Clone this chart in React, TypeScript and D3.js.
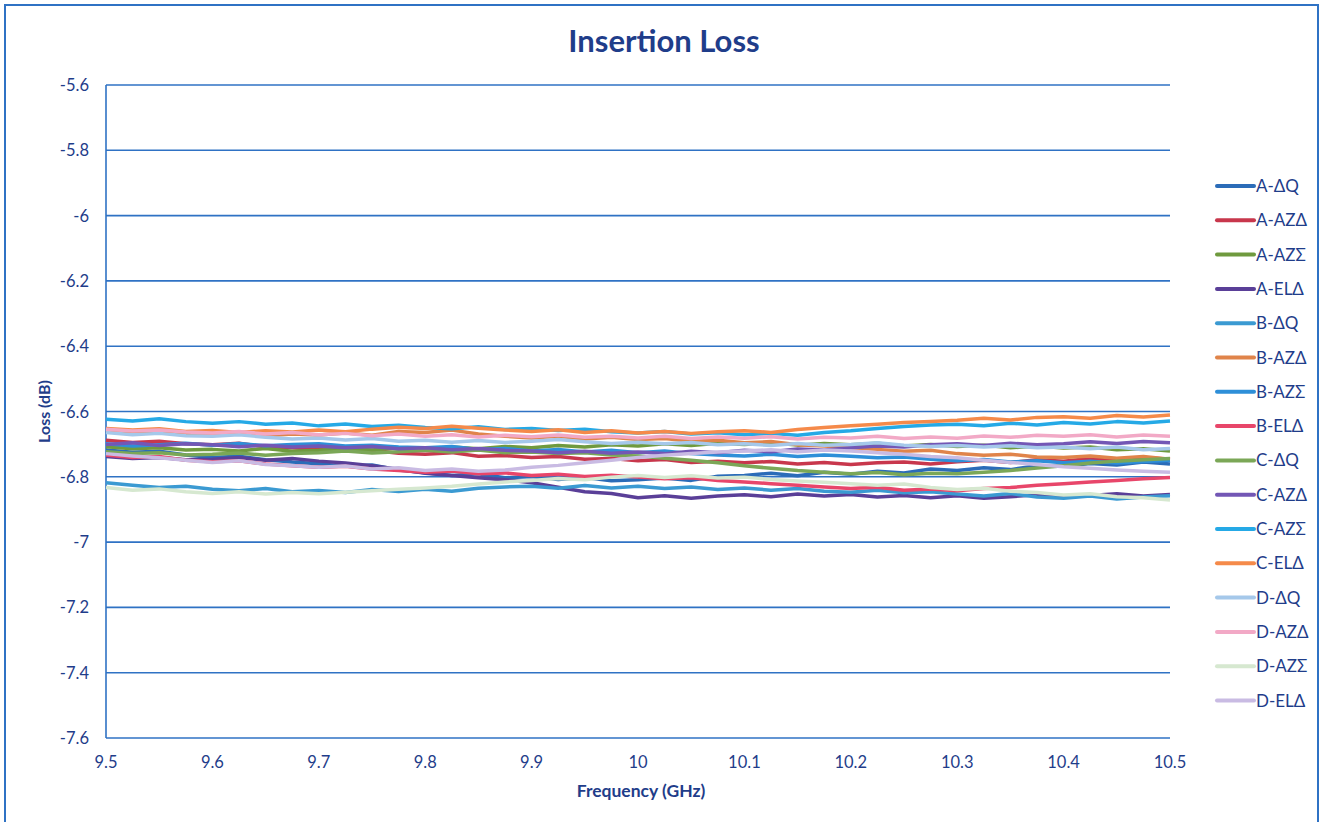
import React from "react";
import * as d3 from "d3";

const freqs = [9.5, 9.525, 9.55, 9.575, 9.6, 9.625, 9.65, 9.675, 9.7, 9.725, 9.75, 9.775, 9.8, 9.825, 9.85, 9.875, 9.9, 9.925, 9.95, 9.975, 10.0, 10.025, 10.05, 10.075, 10.1, 10.125, 10.15, 10.175, 10.2, 10.225, 10.25, 10.275, 10.3, 10.325, 10.35, 10.375, 10.4, 10.425, 10.45, 10.475, 10.5];

const seriesNames = ["A-ΔQ", "A-AZΔ", "A-AZΣ", "A-ELΔ", "B-ΔQ", "B-AZΔ", "B-AZΣ", "B-ELΔ", "C-ΔQ", "C-AZΔ", "C-AZΣ", "C-ELΔ", "D-ΔQ", "D-AZΔ", "D-AZΣ", "D-ELΔ"];

const seriesColors = ["#2b6cb8", "#c8374c", "#6f9a3e", "#5a3f98", "#3b9ad2", "#e0844a", "#2e8fd8", "#e8466a", "#7ba757", "#7357b5", "#25a9e6", "#f58a4a", "#a5c8ea", "#f2a9c6", "#d6e8d0", "#c9bbe3"];

const aDQ = [-6.718, -6.725, -6.722, -6.733, -6.741, -6.737, -6.748, -6.755, -6.760, -6.768, -6.764, -6.779, -6.788, -6.796, -6.791, -6.803, -6.799, -6.808, -6.802, -6.812, -6.809, -6.804, -6.811, -6.798, -6.796, -6.789, -6.797, -6.786, -6.792, -6.783, -6.788, -6.776, -6.781, -6.772, -6.778, -6.766, -6.768, -6.759, -6.764, -6.755, -6.761];
const aAZD = [-6.688, -6.695, -6.691, -6.699, -6.702, -6.697, -6.708, -6.711, -6.716, -6.722, -6.719, -6.728, -6.731, -6.726, -6.737, -6.735, -6.741, -6.738, -6.746, -6.744, -6.751, -6.747, -6.756, -6.752, -6.757, -6.753, -6.761, -6.756, -6.762, -6.757, -6.755, -6.761, -6.754, -6.749, -6.756, -6.748, -6.752, -6.744, -6.749, -6.741, -6.746];
const aAZS = [-6.708, -6.714, -6.711, -6.718, -6.716, -6.721, -6.713, -6.722, -6.719, -6.713, -6.718, -6.711, -6.716, -6.709, -6.714, -6.707, -6.711, -6.704, -6.709, -6.702, -6.706, -6.699, -6.704, -6.697, -6.701, -6.696, -6.703, -6.698, -6.702, -6.697, -6.706, -6.701, -6.707, -6.703, -6.711, -6.706, -6.712, -6.709, -6.717, -6.714, -6.721];
const aELD = [-6.738, -6.744, -6.741, -6.748, -6.746, -6.741, -6.749, -6.744, -6.752, -6.758, -6.766, -6.777, -6.789, -6.796, -6.803, -6.809, -6.818, -6.832, -6.846, -6.851, -6.864, -6.858, -6.866, -6.859, -6.855, -6.861, -6.853, -6.859, -6.854, -6.862, -6.857, -6.864, -6.858, -6.866, -6.861, -6.855, -6.862, -6.857, -6.852, -6.859, -6.854];
const bDQ = [-6.818, -6.826, -6.833, -6.829, -6.838, -6.843, -6.836, -6.846, -6.842, -6.848, -6.839, -6.845, -6.838, -6.844, -6.835, -6.831, -6.829, -6.835, -6.827, -6.834, -6.829, -6.836, -6.831, -6.839, -6.834, -6.841, -6.836, -6.844, -6.847, -6.841, -6.849, -6.846, -6.853, -6.859, -6.851, -6.862, -6.866, -6.859, -6.868, -6.862, -6.858];
const bAZD = [-6.658, -6.664, -6.661, -6.668, -6.671, -6.666, -6.674, -6.669, -6.672, -6.666, -6.673, -6.661, -6.664, -6.657, -6.669, -6.676, -6.681, -6.676, -6.684, -6.679, -6.686, -6.683, -6.691, -6.688, -6.696, -6.692, -6.702, -6.706, -6.711, -6.716, -6.722, -6.719, -6.729, -6.734, -6.731, -6.739, -6.741, -6.736, -6.743, -6.738, -6.746];
const bAZS = [-6.699, -6.706, -6.702, -6.697, -6.703, -6.698, -6.705, -6.701, -6.699, -6.706, -6.703, -6.709, -6.711, -6.707, -6.716, -6.713, -6.721, -6.716, -6.724, -6.719, -6.726, -6.721, -6.729, -6.733, -6.736, -6.731, -6.738, -6.733, -6.737, -6.742, -6.739, -6.746, -6.751, -6.747, -6.755, -6.751, -6.757, -6.752, -6.758, -6.753, -6.749];
const bELD = [-6.733, -6.741, -6.738, -6.749, -6.754, -6.751, -6.761, -6.766, -6.771, -6.768, -6.776, -6.781, -6.786, -6.782, -6.791, -6.788, -6.796, -6.792, -6.799, -6.795, -6.801, -6.806, -6.803, -6.811, -6.816, -6.821, -6.826, -6.831, -6.836, -6.832, -6.841, -6.837, -6.843, -6.836, -6.833, -6.826, -6.821, -6.816, -6.811, -6.806, -6.802];
const cDQ = [-6.723, -6.729, -6.726, -6.733, -6.731, -6.727, -6.734, -6.729, -6.726, -6.721, -6.727, -6.723, -6.719, -6.724, -6.718, -6.726, -6.724, -6.729, -6.726, -6.733, -6.736, -6.743, -6.749, -6.757, -6.766, -6.774, -6.781, -6.786, -6.791, -6.787, -6.794, -6.789, -6.791, -6.786, -6.781, -6.773, -6.766, -6.758, -6.752, -6.748, -6.744];
const cAZD = [-6.701, -6.696, -6.704, -6.699, -6.702, -6.708, -6.703, -6.709, -6.706, -6.711, -6.707, -6.714, -6.711, -6.717, -6.713, -6.719, -6.721, -6.726, -6.722, -6.728, -6.724, -6.729, -6.722, -6.726, -6.719, -6.723, -6.715, -6.718, -6.711, -6.706, -6.709, -6.702, -6.699, -6.704, -6.697, -6.702, -6.699, -6.693, -6.698, -6.692, -6.696];
const cAZS = [-6.624, -6.629, -6.622, -6.631, -6.636, -6.631, -6.639, -6.635, -6.644, -6.638, -6.646, -6.642, -6.649, -6.653, -6.647, -6.655, -6.652, -6.658, -6.654, -6.662, -6.666, -6.661, -6.669, -6.665, -6.671, -6.667, -6.673, -6.664, -6.659, -6.652, -6.646, -6.641, -6.639, -6.644, -6.636, -6.641, -6.634, -6.638, -6.631, -6.635, -6.629];
const cELD = [-6.652, -6.657, -6.653, -6.661, -6.658, -6.664, -6.659, -6.663, -6.657, -6.662, -6.654, -6.648, -6.652, -6.645, -6.651, -6.657, -6.661, -6.656, -6.664, -6.659, -6.666, -6.661, -6.667, -6.662, -6.659, -6.664, -6.655, -6.649, -6.644, -6.639, -6.634, -6.631, -6.627, -6.621, -6.626, -6.618, -6.616, -6.621, -6.612, -6.617, -6.611];
const dDQ = [-6.664, -6.671, -6.667, -6.674, -6.676, -6.671, -6.679, -6.684, -6.681, -6.687, -6.683, -6.691, -6.688, -6.694, -6.689, -6.695, -6.691, -6.686, -6.693, -6.698, -6.694, -6.699, -6.695, -6.702, -6.699, -6.704, -6.698, -6.703, -6.701, -6.696, -6.703, -6.707, -6.704, -6.709, -6.705, -6.711, -6.709, -6.714, -6.709, -6.717, -6.713];
const dAZD = [-6.654, -6.660, -6.657, -6.663, -6.666, -6.661, -6.669, -6.664, -6.671, -6.667, -6.674, -6.669, -6.676, -6.671, -6.678, -6.673, -6.677, -6.672, -6.679, -6.676, -6.681, -6.676, -6.683, -6.678, -6.682, -6.677, -6.684, -6.679, -6.681, -6.676, -6.683, -6.678, -6.682, -6.675, -6.679, -6.673, -6.676, -6.671, -6.678, -6.672, -6.676];
const dAZS = [-6.833, -6.841, -6.837, -6.846, -6.851, -6.846, -6.853, -6.848, -6.852, -6.847, -6.843, -6.838, -6.834, -6.829, -6.822, -6.816, -6.811, -6.805, -6.809, -6.801, -6.796, -6.802, -6.797, -6.804, -6.801, -6.808, -6.813, -6.817, -6.821, -6.826, -6.822, -6.833, -6.839, -6.835, -6.844, -6.848, -6.856, -6.852, -6.861, -6.864, -6.871];
const dELD = [-6.729, -6.736, -6.742, -6.749, -6.756, -6.751, -6.762, -6.766, -6.771, -6.767, -6.776, -6.772, -6.781, -6.776, -6.783, -6.779, -6.771, -6.765, -6.757, -6.749, -6.741, -6.734, -6.729, -6.724, -6.721, -6.717, -6.723, -6.718, -6.721, -6.726, -6.731, -6.738, -6.742, -6.749, -6.756, -6.762, -6.769, -6.774, -6.779, -6.783, -6.786];

const seriesValues = [aDQ, aAZD, aAZS, aELD, bDQ, bAZD, bAZS, bELD, cDQ, cAZD, cAZS, cELD, dDQ, dAZD, dAZS, dELD];

const yTicks = [-5.6, -5.8, -6, -6.2, -6.4, -6.6, -6.8, -7, -7.2, -7.4, -7.6];
const xTicks = [9.5, 9.6, 9.7, 9.8, 9.9, 10, 10.1, 10.2, 10.3, 10.4, 10.5];

const W = 1327;
const H = 822;
const plot = { left: 106, right: 1170, top: 85, bottom: 738 };
const textColor = "#1f3d8a";
const gridColor = "#2f72c4";
const font = "Lato, 'Open Sans', sans-serif";

export default function App() {
  const x = d3.scaleLinear().domain([9.5, 10.5]).range([plot.left, plot.right]);
  const y = d3.scaleLinear().domain([-7.6, -5.6]).range([plot.bottom, plot.top]);
  const line = d3
    .line<number>()
    .x((_, i) => x(freqs[i]))
    .y((v) => y(v));

  return (
    <svg
      width={W}
      height={H}
      style={{ position: "absolute", left: 0, top: 0, background: "#fff" }}
      fontFamily={font}
    >
      <rect x={5} y={5} width={1313} height={840} fill="none" stroke={gridColor} strokeWidth={2} />
      <text x={664} y={52} textAnchor="middle" fontSize={31} fontWeight={700} fill={textColor}>
        Insertion Loss
      </text>
      {yTicks.map((t) => (
        <g key={t}>
          <line x1={plot.left} x2={plot.right} y1={y(t)} y2={y(t)} stroke={gridColor} strokeWidth={1.6} />
          <text x={89} y={y(t) + 6} textAnchor="end" fontSize={16.5} fill={textColor}>
            {String(t)}
          </text>
        </g>
      ))}
      <line x1={plot.left} x2={plot.left} y1={plot.top} y2={plot.bottom} stroke={gridColor} strokeWidth={1.6} />
      {xTicks.map((t) => (
        <text key={t} x={x(t)} y={768} textAnchor="middle" fontSize={16.5} fill={textColor}>
          {String(t)}
        </text>
      ))}
      <text x={641} y={797} textAnchor="middle" fontSize={17.5} fontWeight={700} fill={textColor}>
        Frequency (GHz)
      </text>
      <text
        transform={`translate(50, ${y(-6.6)}) rotate(-90)`}
        textAnchor="middle"
        fontSize={16}
        fontWeight={700}
        fill={textColor}
      >
        Loss (dB)
      </text>
      <g>
        {seriesValues.map((vals, i) => (
          <path
            key={seriesNames[i]}
            d={line(vals) || ""}
            fill="none"
            stroke={seriesColors[i]}
            strokeWidth={3.5}
            strokeLinejoin="round"
          />
        ))}
      </g>
      <g>
        {seriesNames.map((n, i) => {
          const ly = 186 + i * 34.3;
          return (
            <g key={n}>
              <line x1={1217} x2={1254} y1={ly} y2={ly} stroke={seriesColors[i]} strokeWidth={4} strokeLinecap="round" />
              <text x={1256} y={ly + 6} fontSize={17} fill={textColor}>
                {n}
              </text>
            </g>
          );
        })}
      </g>
    </svg>
  );
}
